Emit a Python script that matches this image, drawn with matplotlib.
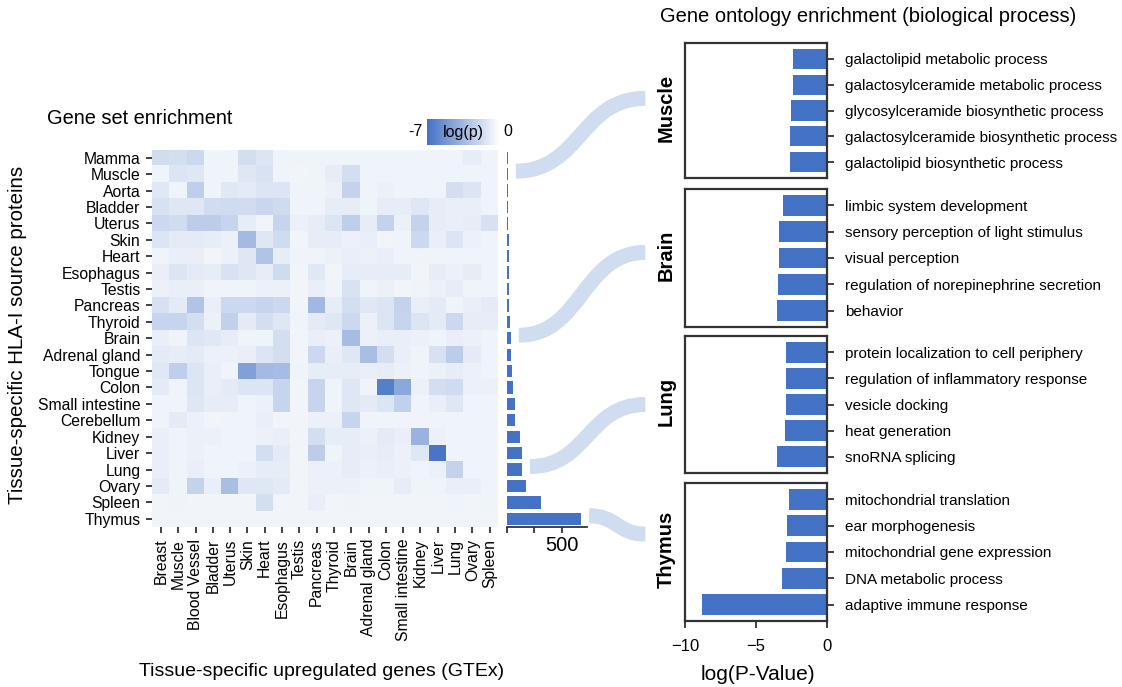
import numpy as np
import matplotlib
matplotlib.use("Agg")
import matplotlib.pyplot as plt
from matplotlib.colors import LinearSegmentedColormap
from matplotlib.path import Path
from matplotlib.patches import PathPatch
from matplotlib.transforms import IdentityTransform

plt.rcParams['font.family'] = ['Liberation Sans', 'DejaVu Sans']

# HLA-I source protein tissues (rows) vs GTEx tissues (columns)
protein_tissues = ['Mamma', 'Muscle', 'Aorta', 'Bladder', 'Uterus', 'Skin', 'Heart',
                   'Esophagus', 'Testis', 'Pancreas', 'Thyroid', 'Brain',
                   'Adrenal gland', 'Tongue', 'Colon', 'Small intestine',
                   'Cerebellum', 'Kidney', 'Liver', 'Lung', 'Ovary', 'Spleen', 'Thymus']
gtex_tissues = ['Breast', 'Muscle', 'Blood Vessel', 'Bladder', 'Uterus', 'Skin', 'Heart',
                'Esophagus', 'Testis', 'Pancreas', 'Thyroid', 'Brain', 'Adrenal gland',
                'Colon', 'Small intestine', 'Kidney', 'Liver', 'Lung', 'Ovary', 'Spleen']

logp = np.array([
    [-1.7, -1.6, -1.9, -0.6, -0.6, -1.6, -1.3, -0.6, -0.6, -0.6, -0.6, -0.6, -0.6, -0.6, -0.6, -0.6, -0.6, -0.6, -0.9, -0.6],
    [-0.6, -1.3, -1.2, -0.6, -0.6, -1.2, -1.4, -0.6, -0.5, -0.6, -0.9, -1.6, -0.6, -0.6, -0.6, -0.6, -0.6, -0.6, -0.6, -0.6],
    [-1.1, -0.6, -2.4, -0.6, -1.1, -1.0, -1.3, -1.3, -0.6, -0.6, -0.7, -2.2, -0.6, -0.7, -0.6, -0.6, -0.6, -1.6, -1.3, -0.6],
    [-1.5, -1.2, -1.2, -1.7, -1.8, -1.7, -2.0, -1.8, -0.6, -0.6, -0.9, -0.9, -0.6, -0.9, -0.9, -1.2, -0.9, -0.8, -0.8, -0.6],
    [-1.9, -1.7, -2.5, -2.5, -2.1, -0.9, -0.5, -2.1, -0.7, -0.9, -1.3, -2.4, -0.9, -2.2, -0.7, -2.2, -0.9, -0.8, -0.9, -1.5],
    [-1.3, -1.0, -1.0, -0.9, -0.7, -3.4, -1.2, -1.8, -0.5, -0.9, -0.9, -0.7, -0.8, -0.5, -0.6, -1.9, -0.8, -1.3, -0.7, -0.6],
    [-0.6, -0.8, -0.8, -0.5, -0.7, -1.2, -2.9, -0.9, -0.6, -0.6, -0.7, -0.8, -0.7, -0.8, -0.6, -0.6, -0.6, -0.6, -0.6, -0.6],
    [-0.8, -1.3, -1.0, -0.9, -1.4, -1.2, -0.9, -1.8, -0.5, -1.1, -0.5, -0.9, -0.9, -0.9, -0.9, -0.5, -0.9, -0.7, -0.9, -0.6],
    [-0.7, -0.8, -0.8, -0.6, -0.6, -0.6, -0.7, -0.7, -0.5, -0.8, -0.6, -1.4, -0.6, -0.7, -0.5, -0.6, -0.7, -0.9, -0.6, -0.6],
    [-1.5, -1.0, -2.9, -0.8, -1.9, -1.9, -2.1, -1.9, -0.5, -3.5, -0.9, -1.6, -1.1, -1.3, -2.2, -0.8, -1.0, -0.6, -0.8, -1.0],
    [-2.1, -2.1, -1.6, -0.7, -2.3, -1.0, -1.6, -1.2, -0.6, -1.0, -1.2, -1.9, -0.7, -1.3, -2.1, -1.3, -1.0, -1.9, -0.9, -0.9],
    [-0.8, -0.6, -1.3, -1.1, -0.9, -0.6, -0.6, -1.6, -0.5, -0.8, -0.7, -3.3, -0.7, -0.8, -0.8, -0.7, -0.6, -0.8, -0.7, -0.6],
    [-1.0, -0.9, -1.0, -0.7, -0.7, -0.8, -1.3, -1.6, -0.5, -1.9, -0.8, -1.2, -3.2, -1.6, -0.8, -0.6, -1.5, -2.5, -1.0, -0.6],
    [-1.1, -2.4, -1.3, -0.8, -0.6, -4.7, -3.4, -3.3, -0.6, -0.9, -0.9, -0.9, -0.8, -0.9, -0.7, -0.6, -0.7, -0.9, -0.7, -0.6],
    [-1.0, -0.6, -1.3, -0.8, -1.0, -1.3, -1.3, -2.1, -0.5, -2.1, -0.6, -1.2, -0.6, -6.3, -4.3, -0.7, -1.6, -1.8, -0.7, -0.7],
    [-0.6, -0.6, -1.2, -0.9, -0.9, -0.6, -0.7, -2.1, -0.5, -2.1, -0.6, -1.2, -1.0, -1.3, -2.3, -0.6, -0.8, -1.2, -0.6, -0.6],
    [-0.6, -1.0, -0.7, -0.5, -0.6, -0.6, -0.8, -0.5, -0.5, -0.7, -0.7, -2.1, -0.6, -0.6, -0.6, -0.6, -0.6, -0.6, -0.6, -0.6],
    [-0.8, -0.6, -0.7, -0.7, -0.6, -0.6, -0.7, -0.8, -0.5, -1.6, -0.9, -0.9, -0.7, -1.0, -0.8, -3.8, -0.7, -0.6, -0.6, -0.6],
    [-0.8, -0.6, -0.7, -0.6, -0.6, -0.6, -1.6, -1.0, -0.5, -2.5, -0.6, -0.9, -0.8, -0.9, -0.7, -1.2, -6.8, -0.6, -0.6, -0.6],
    [-0.8, -0.6, -0.8, -0.6, -0.6, -0.7, -0.9, -0.9, -0.5, -0.7, -0.7, -0.9, -0.7, -0.8, -0.7, -0.6, -0.7, -2.2, -0.6, -0.6],
    [-1.0, -0.6, -2.2, -0.8, -3.2, -1.2, -1.2, -1.0, -0.5, -0.7, -0.7, -0.7, -0.6, -0.6, -0.9, -0.6, -0.6, -0.8, -0.8, -0.6],
    [-0.5, -0.6, -0.5, -0.5, -0.5, -0.5, -1.6, -0.5, -0.5, -0.8, -0.5, -0.6, -0.5, -0.5, -0.5, -0.5, -0.5, -0.6, -0.5, -0.6],
    [-0.5, -0.5, -0.5, -0.5, -0.5, -0.5, -0.5, -0.5, -0.5, -0.5, -0.5, -0.5, -0.5, -0.5, -0.5, -0.5, -0.5, -0.5, -0.5, -0.5],
])

# number of tissue-specific source proteins per tissue
protein_counts = [6, 8, 10, 12, 13, 15, 17, 18, 20, 22, 26, 35,
                  40, 46, 58, 70, 70, 119, 137, 137, 174, 312, 677]

# GO enrichment per tissue
muscle_terms = ['galactolipid metabolic process', 'galactosylceramide metabolic process',
                'glycosylceramide biosynthetic process', 'galactosylceramide biosynthetic process',
                'galactolipid biosynthetic process']
muscle_logp = [-2.36, -2.40, -2.52, -2.59, -2.59]
brain_terms = ['limbic system development', 'sensory perception of light stimulus',
               'visual perception', 'regulation of norepinephrine secretion', 'behavior']
brain_logp = [-3.06, -3.35, -3.37, -3.42, -3.51]
lung_terms = ['protein localization to cell periphery', 'regulation of inflammatory response',
              'vesicle docking', 'heat generation', 'snoRNA splicing']
lung_logp = [-2.85, -2.85, -2.89, -2.96, -3.51]
thymus_terms = ['mitochondrial translation', 'ear morphogenesis',
                'mitochondrial gene expression', 'DNA metabolic process',
                'adaptive immune response']
thymus_logp = [-2.66, -2.80, -2.87, -3.15, -8.80]

BLUE = '#4472c4'
BAND = '#d0dcef'
INK = '#333333'
W, H = 1122, 687


def box(x0, y0, x1, y1):
    # pixel box (top-left origin) -> figure fraction rect
    return [x0 / W, 1 - y1 / H, (x1 - x0) / W, (y1 - y0) / H]


fig = plt.figure(figsize=(W / 100, H / 100), dpi=100)
cmap = LinearSegmentedColormap.from_list('wb', [BLUE, 'white'])

# heatmap
ax_hm = fig.add_axes(box(152.3, 149.5, 498.3, 527))
im = ax_hm.imshow(logp, cmap=cmap, vmin=-7, vmax=0, aspect='auto',
                  interpolation='nearest')
ax_hm.set_xticks(range(len(gtex_tissues)))
ax_hm.set_xticklabels(gtex_tissues, rotation=90)
ax_hm.set_yticks(range(len(protein_tissues)))
ax_hm.set_yticklabels(protein_tissues)
ax_hm.tick_params(length=4.5, width=1.3, color=INK, labelsize=11.3, pad=4)
for s in ax_hm.spines.values():
    s.set_visible(False)

# protein counts next to heatmap
ax_bar = fig.add_axes(box(507, 149.5, 587, 527))
ax_bar.patch.set_visible(False)
ax_bar.barh(range(len(protein_counts)), protein_counts, height=0.75, color=BLUE)
ax_bar.set_ylim(len(protein_counts) - 0.5, -0.5)
ax_bar.set_xlim(0, 730)
ax_bar.set_yticks([])
ax_bar.set_xticks([0, 250, 500])
ax_bar.set_xticklabels(['', '', '500'])
ax_bar.tick_params(axis='x', length=4.5, width=1.3, color=INK, labelsize=14.5, pad=2)
for side in ['top', 'right', 'left']:
    ax_bar.spines[side].set_visible(False)
ax_bar.spines['bottom'].set_linewidth(1.3)
ax_bar.spines['bottom'].set_color(INK)

# colorbar
cax = fig.add_axes(box(427, 119, 500, 145))
cb = fig.colorbar(im, cax=cax, orientation='horizontal')
cb.set_ticks([])
cb.outline.set_visible(False)
fig.text(415 / W, 1 - 132 / H, '-7', ha='center', va='center', fontsize=11.5)
fig.text(508 / W, 1 - 131 / H, '0', ha='center', va='center', fontsize=11.5)
fig.text(463 / W, 1 - 132 / H, 'log(p)', ha='center', va='center', fontsize=11.5)

fig.text(47 / W, 1 - 118 / H, 'Gene set enrichment', ha='left', va='center', fontsize=14.4)
fig.text(18 / W, 1 - 335 / H, 'Tissue-specific HLA-I source proteins', rotation=90,
         ha='center', va='center', fontsize=14.8)
fig.text(322 / W, 1 - 672 / H, 'Tissue-specific upregulated genes (GTEx)',
         ha='center', va='center', fontsize=14)

# GO panels
panels = [('Muscle', muscle_terms, muscle_logp, 43, 178, 0.59),
          ('Brain', brain_terms, brain_logp, 189, 327, 0.54),
          ('Lung', lung_terms, lung_logp, 336, 473, 0.50),
          ('Thymus', thymus_terms, thymus_logp, 483, 621, 0.63)]
go_axes = []
for i, (name, terms, vals, top, bottom, yend) in enumerate(panels):
    ax = fig.add_axes(box(685, top, 826.7, bottom))
    ax.barh(range(len(vals)), vals, height=0.79, color=BLUE)
    ax.set_ylim(len(vals) - 0.38, -0.62)
    ax.set_xlim(-10, 0)
    ax.yaxis.tick_right()
    ax.set_yticks(range(len(terms)))
    ax.set_yticklabels(terms)
    ax.tick_params(axis='y', length=5, width=1.3, color=INK, labelsize=11, pad=8)
    ax.tick_params(axis='x', length=5, width=1.3, color=INK, labelsize=12, pad=8)
    if i < len(panels) - 1:
        ax.set_xticks([])
    else:
        ax.set_xticks([-10, -5, 0])
    for s in ax.spines.values():
        s.set_linewidth(1.6)
        s.set_color(INK)
    ax.text(-0.13, 0.52, name, transform=ax.transAxes, rotation=90, ha='center',
            va='center', fontsize=14.5, fontweight='bold')
    go_axes.append((ax, name, yend))

fig.text(758 / W, 1 - 674 / H, 'log(P-Value)', ha='center', va='center', fontsize=15)
fig.text(660 / W, 1 - 17 / H, 'Gene ontology enrichment (biological process)',
         ha='left', va='center', fontsize=14.5)

# ribbons linking count bars to GO panels
for ax, name, yend in go_axes:
    row = protein_tissues.index(name)
    x0, y0 = ax_bar.transData.transform((protein_counts[row], row))
    x0, y0 = x0 + 8, y0 + 3
    x1, y1 = ax.transAxes.transform((-0.28, yend))
    dx = (x1 - x0) * 0.5
    path = Path([(x0, y0), (x0 + dx, y0), (x1 - dx, y1), (x1, y1)],
                [Path.MOVETO, Path.CURVE4, Path.CURVE4, Path.CURVE4])
    patch = PathPatch(path, facecolor='none', edgecolor=BAND, linewidth=10.8,
                      capstyle='butt', transform=IdentityTransform(), zorder=2)
    fig.add_artist(patch)

fig.savefig('out.png', dpi=100)
